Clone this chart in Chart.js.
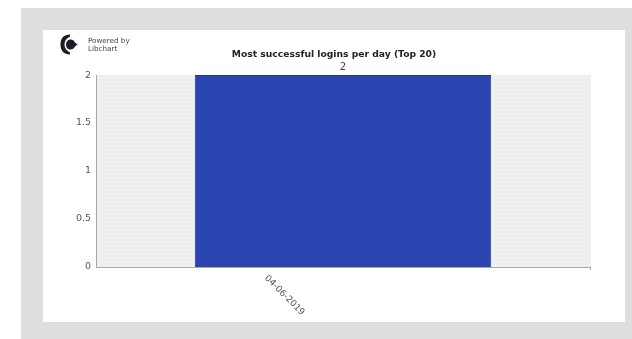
<!DOCTYPE html>
<html>
<head>
<meta charset="utf-8">
<style>
  html, body { margin: 0; padding: 0; background: #fff; }
  #frame { position: absolute; left: 21px; top: 8px; width: 611px; height: 331px; background: #dedede; }
  #panel { position: absolute; left: 43px; top: 30px; width: 582px; height: 292px; background: #fff; }
  #chart { position: absolute; left: 0; top: 0; }
  #logo { position: absolute; left: 16px; top: 3px; }
  #brand { position: absolute; left: 45px; top: 7px; font: 7.2px/8px "DejaVu Sans", sans-serif; color: #444; }
</style>
</head>
<body>
<div id="frame"></div>
<div id="panel">
  <canvas id="chart" width="582" height="292"></canvas>
  <svg id="logo" width="20" height="23" viewBox="0 0 20 23">
    <path d="M11 1.5 C5 1.5 1.5 5 1.5 11.5 C1.5 18 5 21.5 11 21.5 L11 19.5 C7.5 18 5.5 15 5.5 11.5 C5.5 8 7.5 5 11 3.5 Z" fill="#1c1c24"/>
    <path d="M11.5 6.5 C14 6.5 15.5 8 16 9.5 L18.5 11.5 L16 13.5 C15.5 15 14 16.5 11.5 16.5 C9 16.5 7 14.5 7 11.5 C7 8.5 9 6.5 11.5 6.5 Z" fill="#1c1c24"/>
  </svg>
  <div id="brand">Powered by<br>Libchart</div>
</div>
<script src="https://cdn.jsdelivr.net/npm/chart.js@4/dist/chart.umd.min.js"></script>
<script>
// Chart content
const categories = ["04-06-2019"];
const logins = [2];
const yTicks = [0, 0.5, 1, 1.5, 2];
const chartTitle = "Most successful logins per day (Top 20)";

// Striped plot background and small end tick on the baseline
const plotBackdrop = {
  id: "plotBackdrop",
  // The title is centred on the whole panel, not on the padded layout box
  afterLayout(chart) {
    chart.titleBlock.left = 0;
    chart.titleBlock.right = chart.width;
  },
  beforeDraw(chart) {
    const { ctx, chartArea: a } = chart;
    ctx.save();
    ctx.fillStyle = "#eeeeee";
    ctx.fillRect(a.left, a.top, a.right - a.left + 1, a.bottom - a.top);
    ctx.fillStyle = "#f3f3f3";
    for (let y = a.top + 2; y < a.bottom; y += 4) {
      ctx.fillRect(a.left, y, a.right - a.left + 1, 1);
    }
    ctx.restore();
  },
  afterDraw(chart) {
    const { ctx, chartArea: a } = chart;
    ctx.save();
    ctx.fillStyle = "#a8a8a8";
    ctx.fillRect(a.right, a.bottom, 1, 3);
    ctx.restore();
  }
};

// Value printed just above each bar
const barValues = {
  id: "barValues",
  afterDatasetsDraw(chart) {
    const { ctx } = chart;
    const meta = chart.getDatasetMeta(0);
    ctx.save();
    ctx.font = '10px "DejaVu Sans", sans-serif';
    ctx.fillStyle = "#444";
    ctx.textAlign = "center";
    ctx.textBaseline = "bottom";
    meta.data.forEach((bar, i) => {
      ctx.fillText(String(chart.data.datasets[0].data[i]), bar.x, bar.y - 3);
    });
    ctx.restore();
  }
};

new Chart(document.getElementById("chart"), {
  type: "bar",
  data: {
    labels: categories,
    datasets: [{
      data: logins,
      backgroundColor: "#2a45b0",
      borderColor: "#22398f",
      borderWidth: 1,
      barPercentage: 1,
      categoryPercentage: 0.6
    }]
  },
  plugins: [plotBackdrop, barValues],
  options: {
    responsive: false,
    animation: false,
    layout: { padding: { left: 0, right: 35, top: 0, bottom: 0 } },
    plugins: {
      legend: { display: false },
      tooltip: { enabled: false },
      title: {
        display: true,
        text: chartTitle,
        color: "#222",
        font: { family: '"DejaVu Sans", sans-serif', size: 9.2, weight: "bold" },
        padding: { top: 19, bottom: 15 }
      }
    },
    scales: {
      x: {
        grid: { display: false, drawTicks: false },
        border: { color: "#a8a8a8", width: 1 },
        ticks: {
          minRotation: -45,
          maxRotation: -45,
          labelOffset: -40,
          padding: 43,
          color: "#555",
          font: { family: '"DejaVu Sans", sans-serif', size: 9 }
        },
        afterFit(scale) { scale.height = 55; }
      },
      y: {
        min: 0,
        max: 2,
        afterBuildTicks(scale) { scale.ticks = yTicks.map(v => ({ value: v })); },
        grid: { display: false, drawTicks: true, tickLength: 4, tickColor: "#a8a8a8", drawOnChartArea: false },
        border: { color: "#a8a8a8", width: 1 },
        ticks: {
          padding: 1,
          color: "#555",
          font: { family: '"DejaVu Sans", sans-serif', size: 9.5 },
          callback: v => String(v)
        },
        afterFit(scale) { scale.width = 53; }
      }
    }
  }
});
</script>
</body>
</html>
